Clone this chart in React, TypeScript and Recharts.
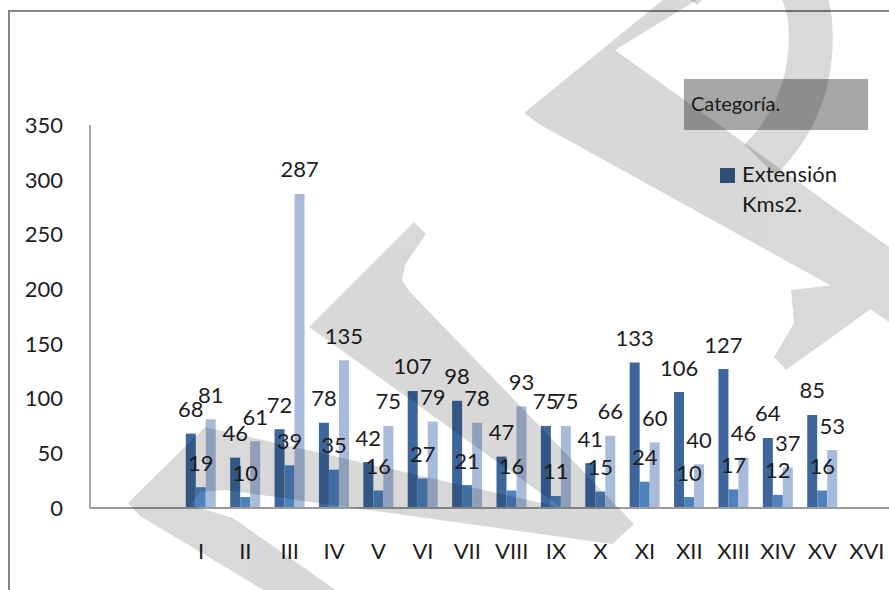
import React from 'react';
import { BarChart, Bar, XAxis, YAxis, LabelList } from 'recharts';

// two empty slots precede category I on the axis
const categories = ['', '', 'I', 'II', 'III', 'IV', 'V', 'VI', 'VII', 'VIII', 'IX', 'X', 'XI', 'XII', 'XIII', 'XIV', 'XV', 'XVI'];
const extension = [null, null, 68, 46, 72, 78, 42, 107, 98, 47, 75, 41, 133, 106, 127, 64, 85, null];
const serieMedia = [null, null, 19, 10, 39, 35, 16, 27, 21, 16, 11, 15, 24, 10, 17, 12, 16, null];
const serieClara = [null, null, 81, 61, 287, 135, 75, 79, 78, 93, 75, 66, 60, 40, 46, 37, 53, null];
const yTicks = [0, 50, 100, 150, 200, 250, 300, 350];

const data = categories.map((cat, i) => ({
  cat,
  ext: extension[i],
  media: serieMedia[i],
  clara: serieClara[i],
}));

const FONT = 'Lato, "Open Sans", sans-serif';
const DARK = '#3D679C';
const MID = '#4F81BD';
const LIGHT = '#A9BBDB';

const renderLabel = (props: any) => {
  const { x, y, width, value } = props;
  if (value == null) return null;
  return (
    <text
      x={Number(x) + Number(width) / 2}
      y={Number(y) - 25}
      textAnchor="middle"
      dominantBaseline="central"
      fontSize={22}
      fontFamily={FONT}
      fill="#1e1e1e"
    >
      {value}
    </text>
  );
};

function LegendBox() {
  return (
    <div style={{ position: 'absolute', left: 684, top: 79, width: 184, height: 140, fontFamily: FONT }}>
      <div
        style={{
          position: 'absolute',
          left: 0,
          top: 0,
          width: 184,
          height: 51,
          background: '#a6a6a6',
          color: '#1a1a1a',
          fontSize: 20,
          lineHeight: '48px',
          paddingLeft: 7,
          boxSizing: 'border-box',
        }}
      >
        Categoría.
      </div>
      <div style={{ position: 'absolute', left: 36, top: 80, width: 140 }}>
        <span
          style={{ position: 'absolute', left: 0, top: 9, width: 15, height: 15, background: '#385D8A' }}
        />
        <div style={{ marginLeft: 22, fontSize: 22, lineHeight: '30px', color: '#1e1e1e' }}>
          Extensión
          <br />
          Kms2.
        </div>
      </div>
    </div>
  );
}

export default function App() {
  return (
    <div style={{ position: 'absolute', left: 0, top: 0, width: 889, height: 590, background: '#fff', overflow: 'hidden' }}>
      <BarChart
        width={889}
        height={590}
        data={data}
        margin={{ top: 125, right: 0, bottom: 22, left: 0 }}
        barSize={10}
        barGap={0}
      >
        <XAxis
          dataKey="cat"
          axisLine={{ stroke: '#9a9a9a', strokeWidth: 2 }}
          tickLine={false}
          tickSize={0}
          tickMargin={35}
          height={60}
          interval={0}
          tick={{ fontSize: 22, fontFamily: FONT, fill: '#1e1e1e' }}
        />
        <YAxis
          domain={[0, 350]}
          ticks={yTicks}
          width={90}
          axisLine={{ stroke: '#8c8c8c', strokeWidth: 1.5 }}
          tickLine={false}
          tickSize={0}
          tickMargin={27}
          tick={{ fontSize: 22, fontFamily: FONT, fill: '#1e1e1e' }}
        />
        <Bar dataKey="ext" name="Extensión Kms2." fill={DARK} isAnimationActive={false}>
          <LabelList dataKey="ext" content={renderLabel} />
        </Bar>
        <Bar dataKey="media" name="Serie 2" fill={MID} isAnimationActive={false}>
          <LabelList dataKey="media" content={renderLabel} />
        </Bar>
        <Bar dataKey="clara" name="Serie 3" fill={LIGHT} isAnimationActive={false}>
          <LabelList dataKey="clara" content={renderLabel} />
        </Bar>
      </BarChart>
      <LegendBox />
      <svg
        width={889}
        height={590}
        style={{ position: 'absolute', left: 0, top: 0, pointerEvents: 'none' }}
      >
        {/* frame of the chart area */}
        <path d="M9,590 L9,11 L889,11" fill="none" stroke="#868686" strokeWidth={2} />
        {/* grey watermark letters */}
        <g opacity={0.15}>
          <path
            d="M128,503 L205,427 L634,524 L612,544 L225,490 L200,492 L190,505 L233,518 L350,600 L280,600 L140,516 Z"
            fill="#000"
          />
          <path
            d="M309,327 L414,222 L426,234 L405,265 L402,280 L410,292 L634,524 L612,544 Z"
            fill="#000"
          />
          <path
            d="M524,113 L669,-5 L705,-5 L615,50 L889,247 L889,322 L857,300 L537,123 Z M791,290 L860,282 L889,296 L786,370 L774,357 L794,323 Z"
            fill="#000"
          />
        </g>
        <g opacity={0.15}>
          <path
            d="M680,-8 C720,-60 800,-60 810,20 C815,80 795,125 760,160"
            fill="none"
            stroke="#000"
            strokeWidth={44}
          />
        </g>
      </svg>
    </div>
  );
}
